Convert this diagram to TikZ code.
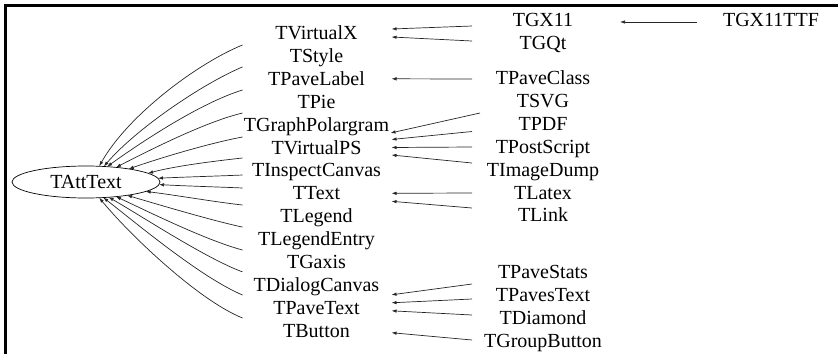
\documentclass[tikz,border=0pt]{standalone}
\usepackage{fontspec}
\setmainfont{Liberation Serif}
\usetikzlibrary{shapes.geometric,arrows.meta}
\begin{document}
\begin{tikzpicture}[x=1pt,y=-1pt,
  lbl/.style={font=\fontsize{20}{24}\selectfont, inner sep=0pt, outer sep=0pt, text height=13pt, text depth=0pt},
  mid/.style={lbl, minimum width=150pt},
  rgt/.style={lbl, minimum width=142pt},
  arr/.style={draw=black!85, line width=0.7pt, -{Latex[length=5pt,width=3.5pt]}},
  frame/.style={line width=2.5pt, black}
]
\useasboundingbox (0,0) rectangle (838,354);
\draw[frame] (5.5,354) -- (5.5,5.5) -- (838,5.5);

% root
\node[lbl, ellipse, draw, line width=0.7pt, minimum width=148pt, minimum height=32pt] (att) at (86,182) {TAttText};

% middle column
\node[mid] (tvx)   at (316.5,33)    {TVirtualX};
\node[mid] (tsty)  at (316.5,55.9)  {TStyle};
\node[mid] (tpl)   at (316.5,78.8)  {TPaveLabel};
\node[mid] (tpie)  at (316.5,101.7) {TPie};
\node[mid] (tgp)   at (316.5,124.6) {TGraphPolargram};
\node[mid] (tvps)  at (316.5,147.5) {TVirtualPS};
\node[mid] (tic)   at (316.5,170.4) {TInspectCanvas};
\node[mid] (ttext) at (316.5,193.3) {TText};
\node[mid] (tleg)  at (316.5,216.2) {TLegend};
\node[mid] (tle)   at (316.5,239.1) {TLegendEntry};
\node[mid] (tgax)  at (316.5,262)   {TGaxis};
\node[mid] (tdc)   at (316.5,284.9) {TDialogCanvas};
\node[mid] (tpt)   at (316.5,307.8) {TPaveText};
\node[mid] (tbut)  at (316.5,330.7) {TButton};

% right column
\node[rgt] (tgx)    at (543,20)  {TGX11};
\node[rgt] (tgqt)   at (543,43)  {TGQt};
\node[rgt] (tpc)    at (543,78)  {TPaveClass};
\node[rgt] (tsvg)   at (543,101) {TSVG};
\node[rgt] (tpdf)   at (543,124) {TPDF};
\node[rgt] (tps)    at (543,147) {TPostScript};
\node[rgt] (tid)    at (543,170) {TImageDump};
\node[rgt] (tlatex) at (543,193) {TLatex};
\node[rgt] (tlink)  at (543,215) {TLink};
\node[rgt] (tpst)   at (543,272) {TPaveStats};
\node[rgt] (tpstx)  at (543,295) {TPavesText};
\node[rgt] (tdia)   at (543,318) {TDiamond};
\node[rgt] (tgb)    at (543,341) {TGroupButton};

\node[lbl, minimum width=148pt] (ttf) at (771,20) {TGX11TTF};

% middle -> root
\draw[arr] ([shift={(1,12)}]tvx.west)    .. controls (198,63) and (128,115) .. (att.50);
\draw[arr] ([shift={(1,11)}]tsty.west)   .. controls (200,85) and (135,130) .. (att.41);
\draw[arr] ([shift={(1,11.2)}]tpl.west)  .. controls (200,103) and (140,143) .. (att.36);
\draw[arr] ([shift={(1,11.3)}]tpie.west) .. controls (205,122) and (150,150) .. (att.26);
\draw[arr] ([shift={(1,12.4)}]tgp.west)  .. controls (210,143) and (160,158) .. (att.17);
\draw[arr] ([shift={(1,10.5)}]tvps.west) .. controls (215,161) and (175,166) .. (att.8);
\draw[arr] ([shift={(1,4.6)}]tic.west)   .. controls (220,176) and (185,177) .. (att.3);
\draw[arr] ([shift={(1,-5.3)}]ttext.west) .. controls (220,187) and (185,186) .. (att.358);
\draw[arr] ([shift={(1,-11.2)}]tleg.west) .. controls (215,202) and (175,195) .. (att.351);
\draw[arr] ([shift={(1,-12)}]tle.west)    .. controls (210,220) and (160,205) .. (att.342);
\draw[arr] ([shift={(1,-12)}]tgax.west)   .. controls (205,240) and (145,210) .. (att.334);
\draw[arr] ([shift={(1,-13)}]tdc.west)    .. controls (205,258) and (140,215) .. (att.326);
\draw[arr] ([shift={(1,-12.8)}]tpt.west)  .. controls (200,277) and (135,222) .. (att.318);
\draw[arr] ([shift={(1,-12.7)}]tbut.west) .. controls (198,300) and (130,235) .. (att.310);

% right -> middle
\draw[arr] ([shift={(0,6)}]tgx.west)    -- ([shift={(0,-4)}]tvx.east);
\draw[arr] ([shift={(0,-2)}]tgqt.west)  -- ([shift={(0,4)}]tvx.east);
\draw[arr] ([shift={(0,1)}]tpc.west)    -- (tpl.east);
\draw[arr] ([shift={(8,12)}]tsvg.west)  -- ([shift={(-1,-14.5)}]tvps.east);
\draw[arr] ([shift={(0,7.5)}]tpdf.west) -- ([shift={(0,-8)}]tvps.east);
\draw[arr] (tps.west)                   -- (tvps.east);
\draw[arr] ([shift={(0,-7)}]tid.west)   -- ([shift={(0,7.5)}]tvps.east);
\draw[arr] (tlatex.west)                -- (ttext.east);
\draw[arr] ([shift={(0,-7)}]tlink.west) -- ([shift={(0,8)}]ttext.east);
\draw[arr] ([shift={(0,12)}]tpst.west)  -- ([shift={(0,-13)}]tpt.east);
\draw[arr] ([shift={(0,4)}]tpstx.west)  -- ([shift={(0,-5)}]tpt.east);
\draw[arr] ([shift={(0,-3)}]tdia.west)  -- ([shift={(0,3)}]tpt.east);
\draw[arr] ([shift={(0,-1)}]tgb.west)   -- ([shift={(0,2)}]tbut.east);
\draw[arr] ([shift={(0,2)}]ttf.west)    -- ([shift={(6,2)}]tgx.east);
\end{tikzpicture}
\end{document}
